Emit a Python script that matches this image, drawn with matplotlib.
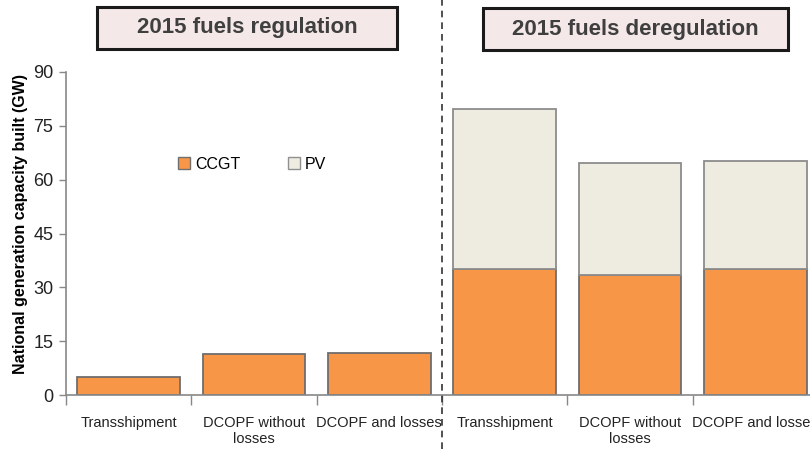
import matplotlib

matplotlib.use("Agg")
import matplotlib.pyplot as plt
from matplotlib.patches import Rectangle, Patch
import numpy as np

plt.rcParams["font.family"] = ["Liberation Sans", "DejaVu Sans"]

categories = [
    "Transshipment",
    "DCOPF without\nlosses",
    "DCOPF and losses",
    "Transshipment",
    "DCOPF without\nlosses",
    "DCOPF and losses",
]
ccgt = [5.0, 11.4, 11.7, 35.1, 33.4, 35.1]
pv = [0.0, 0.0, 0.0, 44.6, 31.2, 30.1]
panel_titles = ["2015 fuels regulation", "2015 fuels deregulation"]
y_ticks = [0, 15, 30, 45, 60, 75, 90]

CCGT_COLOR = "#F79646"
PV_COLOR = "#EEEBE0"

fig = plt.figure(figsize=(8.1, 4.49), dpi=100)
ax = fig.add_axes([66 / 810, 1 - 395 / 449, 752 / 810, 323 / 449])

x = np.arange(len(categories))
ax.bar(x, ccgt, width=0.82, color=CCGT_COLOR, edgecolor="#6e6e6e", linewidth=1.3, zorder=2)
pv_x = [xi for xi, v in zip(x, pv) if v > 0]
pv_v = [v for v in pv if v > 0]
pv_b = [c for c, v in zip(ccgt, pv) if v > 0]
ax.bar(pv_x, pv_v, bottom=pv_b, width=0.82, color=PV_COLOR, edgecolor="#8c8c8c", linewidth=1.3, zorder=2)

ax.set_xlim(-0.5, len(categories) - 0.5)
ax.set_ylim(0, 90)
ax.set_yticks(y_ticks)
ax.tick_params(axis="y", labelsize=13, colors="#222222", length=5, color="#888888", width=1, pad=4)
ax.set_xticks(x)
ax.set_xticklabels(categories, fontsize=10.5, color="#222222")
ax.tick_params(axis="x", length=0, pad=15)
ax.set_xticks(np.arange(-0.5, len(categories)), minor=True)
ax.tick_params(axis="x", which="minor", length=7, color="#888888", width=1)

for s in ["top", "right"]:
    ax.spines[s].set_visible(False)
for s in ["left", "bottom"]:
    ax.spines[s].set_color("#888888")
    ax.spines[s].set_linewidth(1.2)

ax.set_ylabel("National generation capacity built (GW)", fontsize=11.5, fontweight="bold")
ax.yaxis.set_label_coords(-0.051, 0.53)

ax.axvline(2.5, ymin=-0.167, ymax=1.223, clip_on=False, color="#333333",
           linestyle=(0, (4, 3)), linewidth=1.2, zorder=5)

handles = [
    Patch(facecolor=CCGT_COLOR, edgecolor="#707070", label="CCGT"),
    Patch(facecolor=PV_COLOR, edgecolor="#909090", label="PV"),
]
ax.legend(handles=handles, loc="center left", bbox_to_anchor=(0.13, 0.715), ncol=2, frameon=False,
          fontsize=11.5, handlelength=0.75, handleheight=0.75, handletextpad=0.3, columnspacing=3.0)

# title boxes (pixel positions from the top-left corner)
boxes = [(97, 7, 300, 42), (483, 8, 305, 42)]
for (bx, by, bw, bh), title in zip(boxes, panel_titles):
    fx, fy = bx / 810, 1 - (by + bh) / 449
    fw, fh = bw / 810, bh / 449
    fig.patches.append(Rectangle((fx + 1.5 / 810, fy - 1.5 / 449), fw, fh, transform=fig.transFigure,
                                 facecolor="#d0d0d0", edgecolor="none", zorder=1))
    fig.patches.append(Rectangle((fx, fy), fw, fh, transform=fig.transFigure,
                                 facecolor="#F5E8E8", edgecolor="#1a1a1a", linewidth=2.2, zorder=2))
    fig.text(fx + fw / 2, fy + fh / 2, title, ha="center", va="center",
             fontsize=16, fontweight="bold", color="#3f3f3f", zorder=4)

fig.savefig("out.png", dpi=100)
